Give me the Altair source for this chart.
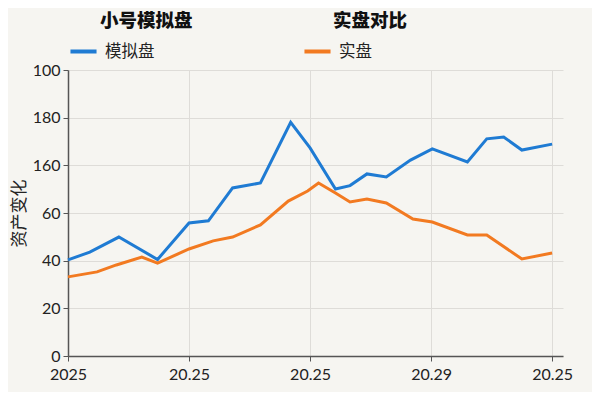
import altair as alt
import pandas as pd

# x positions are in tick units (0..4)
x_labels = ["2025", "20.25", "20.25", "20.29", "20.25"]
y_labels = ["0", "20", "40", "60", "160", "180", "100"]

sim_x = [0, 0.18, 0.42, 0.74, 1.0, 1.16, 1.36, 1.59, 1.84, 2.0, 2.21,
         2.33, 2.47, 2.63, 2.83, 3.01, 3.30, 3.46, 3.60, 3.75, 4.0]
sim_y = [40.3, 43.6, 49.9, 40.5, 55.8, 56.7, 70.5, 72.6, 98.0, 87.3, 70.1,
         71.5, 76.4, 75.1, 82.2, 86.9, 81.4, 91.1, 91.9, 86.4, 88.9]

real_x = [0, 0.24, 0.40, 0.61, 0.74, 1.0, 1.20, 1.36, 1.59, 1.82, 1.98,
          2.07, 2.21, 2.33, 2.47, 2.63, 2.85, 3.01, 3.30, 3.46, 3.75, 4.0]
real_y = [33.2, 35.3, 38.2, 41.5, 39.0, 44.9, 48.3, 49.9, 55.0, 65.0, 69.2,
          72.6, 68.4, 64.6, 65.9, 64.2, 57.5, 56.2, 50.8, 50.8, 40.7, 43.2]

sim = pd.DataFrame({"x": sim_x, "y": sim_y, "series": "模拟盘"})
real = pd.DataFrame({"x": real_x, "y": real_y, "series": "实盘"})

FONT = "Lato, Noto Sans CJK SC"
CJK = "Noto Sans CJK SC"

x_enc = alt.X(
    "x:Q",
    scale=alt.Scale(domain=[0, 4.09], nice=False, zero=False),
    axis=alt.Axis(
        values=[0, 1, 2, 3, 4],
        labelExpr=str(x_labels) + "[datum.value]",
        labelFlush=False,
        title=None,
    ),
)
y_enc = alt.Y(
    "y:Q",
    scale=alt.Scale(domain=[0, 120], nice=False),
    axis=alt.Axis(
        values=[0, 20, 40, 60, 80, 100, 120],
        labelExpr=str(y_labels) + "[datum.value / 20]",
        labelFlush=False,
        title="资产变化",
        titleFont=CJK,
        titleFontWeight="normal",
        titleFontSize=17,
        titlePadding=4,
    ),
)


def legend(x):
    return alt.Legend(
        title=None,
        orient="none",
        legendX=x,
        legendY=-34,
        symbolType="stroke",
        symbolSize=680,
        symbolStrokeWidth=4,
        labelFont=CJK,
        labelFontSize=16.5,
        labelColor="#222222",
        labelOffset=6,
    )


sim_line = alt.Chart(sim).mark_line(strokeWidth=3).encode(
    x=x_enc,
    y=y_enc,
    color=alt.Color("series:N", scale=alt.Scale(domain=["模拟盘"], range=["#1f7bd3"]),
                    legend=legend(0)),
)
real_line = alt.Chart(real).mark_line(strokeWidth=3).encode(
    x=x_enc,
    y=y_enc,
    color=alt.Color("series:N", scale=alt.Scale(domain=["实盘"], range=["#f27a21"]),
                    legend=legend(234)),
)

# legend headings
title1 = alt.Chart(pd.DataFrame({"t": ["小号模拟盘"]})).mark_text(
    font=CJK, fontSize=18.5, fontWeight=900, align="left", baseline="middle", color="#111111"
).encode(text="t:N", x=alt.value(32), y=alt.value(-49))
title2 = alt.Chart(pd.DataFrame({"t": ["实盘对比"]})).mark_text(
    font=CJK, fontSize=18.5, fontWeight=900, align="left", baseline="middle", color="#111111"
).encode(text="t:N", x=alt.value(265), y=alt.value(-49))

chart = (
    alt.layer(sim_line, real_line, title1, title2)
    .resolve_scale(color="independent")
    .properties(
        width=495,
        height=286,
        autosize="none",
        padding={"left": 60, "top": 62, "right": 29, "bottom": 36},
        background="#f6f5f1",
    )
    .configure_view(strokeWidth=0)
    .configure_axis(
        labelFont=FONT,
        labelFontSize=16,
        labelColor="#222222",
        titleColor="#222222",
        gridColor="#dedcd8",
        domainColor="#555555",
        domainWidth=1.5,
        tickColor="#555555",
        tickSize=5,
    )
    .configure_axisX(labelPadding=5)
    .configure_axisY(labelPadding=3)
)

chart.save("out.html", embed_options={"renderer": "svg", "actions": False})
